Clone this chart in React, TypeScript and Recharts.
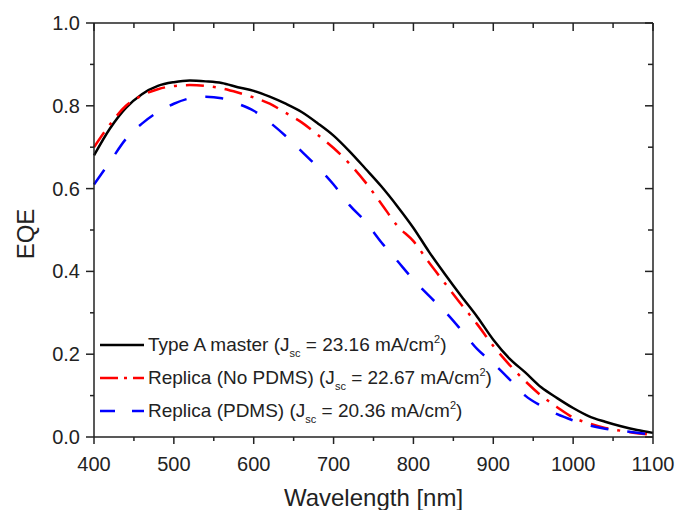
import { LineChart, Line, XAxis, YAxis, Legend } from "recharts";

// EQE spectra (20 nm steps)
const wavelengths = [
  400, 420, 440, 460, 480, 500, 520, 540, 560, 580, 600, 620, 640, 660, 680, 700, 720, 740,
  760, 780, 800, 820, 840, 860, 880, 900, 920, 940, 960, 980, 1000, 1020, 1040, 1060, 1080, 1100,
];
const typeAMaster = [
  0.68, 0.745, 0.795, 0.828, 0.848, 0.857, 0.861, 0.859, 0.855, 0.845, 0.836, 0.822, 0.805, 0.785,
  0.758, 0.728, 0.69, 0.648, 0.605, 0.557, 0.505, 0.446, 0.392, 0.34, 0.29, 0.235, 0.19, 0.156,
  0.12, 0.094, 0.07, 0.05, 0.037, 0.026, 0.017, 0.01,
];
const replicaNoPdms = [
  0.7, 0.755, 0.8, 0.825, 0.84, 0.848, 0.85, 0.848, 0.842, 0.832, 0.82, 0.805, 0.783, 0.76, 0.73,
  0.698, 0.66, 0.615, 0.563, 0.51, 0.473, 0.42, 0.37, 0.32, 0.272, 0.22, 0.175, 0.135, 0.1, 0.072,
  0.047, 0.033, 0.022, 0.015, 0.009, 0.005,
];
const replicaPdms = [
  0.61, 0.665, 0.72, 0.757, 0.785, 0.805, 0.818, 0.822, 0.818, 0.805, 0.788, 0.76, 0.727, 0.69,
  0.652, 0.61, 0.56, 0.52, 0.47, 0.425, 0.38, 0.34, 0.302, 0.258, 0.212, 0.178, 0.14, 0.1, 0.075,
  0.055, 0.04, 0.028, 0.02, 0.015, 0.01, 0.006,
];

const xTicks = [400, 450, 500, 550, 600, 650, 700, 750, 800, 850, 900, 950, 1000, 1050, 1100];
const yTicks = [0, 0.1, 0.2, 0.3, 0.4, 0.5, 0.6, 0.7, 0.8, 0.9, 1.0];

const series = [
  { key: "master", name: "Type A master", jsc: "23.16", color: "#000000", dash: undefined, legendDash: undefined },
  { key: "noPdms", name: "Replica (No PDMS)", jsc: "22.67", color: "#ff0000", dash: "18 9 3 9", legendDash: "18 6 3 6" },
  { key: "pdms", name: "Replica (PDMS)", jsc: "20.36", color: "#0000ff", dash: "18 19", legendDash: "15 17" },
];

const data = wavelengths.map((wl, i) => ({
  wl,
  master: typeAMaster[i],
  noPdms: replicaNoPdms[i],
  pdms: replicaPdms[i],
}));

const FONT = "'Liberation Sans', Arial, Helvetica, sans-serif";
const INK = "#222";
const W = 680;
const H = 510;
const MARGIN = { top: 23, right: 27, bottom: 0, left: 0 };
const X_AXIS_H = 73;
const Y_AXIS_W = 94;
const PLOT_TOP = MARGIN.top;
const PLOT_RIGHT = W - MARGIN.right;
const axisLine = { stroke: INK, strokeWidth: 1.5 };
const NoLabel = () => <g />;

const isMajorX = (v: number) => v % 100 === 0;
const isMajorY = (v: number) => Math.round(v * 10) % 2 === 0;

// bottom ticks point out, mirrored ticks on the top edge point in
const BottomTick = ({ x, y, payload }: any) => {
  const major = isMajorX(payload.value);
  return (
    <g>
      <line x1={x} x2={x} y1={y} y2={y + (major ? 7 : 4)} stroke={INK} strokeWidth={1.5} />
      <line x1={x} x2={x} y1={PLOT_TOP} y2={PLOT_TOP + (major ? 8 : 5)} stroke={INK} strokeWidth={1.5} />
      {major && (
        <text x={x} y={y + 34} textAnchor="middle" fontSize={20} fill={INK} fontFamily={FONT}>
          {payload.value}
        </text>
      )}
    </g>
  );
};

const LeftTick = ({ x, y, payload }: any) => {
  const major = isMajorY(payload.value);
  return (
    <g>
      <line x1={x} x2={x - (major ? 8 : 4)} y1={y} y2={y} stroke={INK} strokeWidth={1.5} />
      <line x1={PLOT_RIGHT} x2={PLOT_RIGHT - (major ? 8 : 5)} y1={y} y2={y} stroke={INK} strokeWidth={1.5} />
      {major && (
        <text x={x - 14} y={y + 7} textAnchor="end" fontSize={20} fill={INK} fontFamily={FONT}>
          {payload.value.toFixed(1)}
        </text>
      )}
    </g>
  );
};

const XTitle = ({ viewBox }: any) => (
  <text
    x={viewBox.x + viewBox.width / 2}
    y={viewBox.y + viewBox.height - 4}
    textAnchor="middle"
    fontSize={24}
    fill={INK}
    fontFamily={FONT}
  >
    Wavelength [nm]
  </text>
);

const YTitle = ({ viewBox }: any) => {
  const cx = viewBox.x + 25;
  const cy = viewBox.y + viewBox.height / 2 + 4;
  return (
    <text
      x={cx}
      y={cy}
      transform={`rotate(-90 ${cx} ${cy})`}
      textAnchor="middle"
      dominantBaseline="central"
      fontSize={24}
      fill={INK}
      fontFamily={FONT}
    >
      EQE
    </text>
  );
};

const LegendBox = () => (
  <div style={{ fontFamily: FONT, fontSize: 19, color: INK }}>
    {series.map((s) => (
      <div key={s.key} style={{ display: "flex", alignItems: "center", height: 33, whiteSpace: "nowrap" }}>
        <svg width={44} height={10} style={{ marginRight: 4 }}>
          <line x1={0} x2={44} y1={5} y2={5} stroke={s.color} strokeWidth={2.5} strokeDasharray={s.legendDash} />
        </svg>
        <span>
          {s.name} (J
          <span style={{ fontSize: 11, position: "relative", top: 6 }}>sc</span> = {s.jsc} mA/cm
          <span style={{ fontSize: 11, position: "relative", top: -8 }}>2</span>)
        </span>
      </div>
    ))}
  </div>
);

export default function App() {
  return (
    <div style={{ position: "absolute", left: 0, top: 0, background: "#fff" }}>
      <LineChart width={W} height={H} data={data} margin={MARGIN}>
        <XAxis
          dataKey="wl"
          type="number"
          domain={[400, 1100]}
          ticks={xTicks}
          interval={0}
          height={X_AXIS_H}
          tickSize={0}
          tickMargin={0}
          tickLine={false}
          axisLine={axisLine}
          tick={BottomTick}
          label={(p: any) => <XTitle {...p} />}
        />
        <XAxis
          xAxisId="top"
          orientation="top"
          mirror
          type="number"
          domain={[400, 1100]}
          ticks={xTicks}
          interval={0}
          height={0.01}
          tickLine={false}
          axisLine={axisLine}
          tick={NoLabel}
        />
        <YAxis
          type="number"
          domain={[0, 1]}
          ticks={yTicks}
          interval={0}
          width={Y_AXIS_W}
          tickSize={0}
          tickMargin={0}
          tickLine={false}
          axisLine={axisLine}
          tick={LeftTick}
          label={(p: any) => <YTitle {...p} />}
        />
        <YAxis
          yAxisId="right"
          orientation="right"
          mirror
          type="number"
          domain={[0, 1]}
          ticks={yTicks}
          interval={0}
          width={0.01}
          tickLine={false}
          axisLine={axisLine}
          tick={NoLabel}
        />
        <Legend
          layout="horizontal"
          verticalAlign="middle"
          align="center"
          content={() => <LegendBox />}
          wrapperStyle={{ left: 100, top: 328, width: 440 }}
        />
        {series.map((s) => (
          <Line
            key={s.key}
            dataKey={s.key}
            name={s.name}
            type="monotone"
            stroke={s.color}
            strokeWidth={2.5}
            strokeDasharray={s.dash}
            dot={false}
            activeDot={false}
            isAnimationActive={false}
          />
        ))}
      </LineChart>
    </div>
  );
}
